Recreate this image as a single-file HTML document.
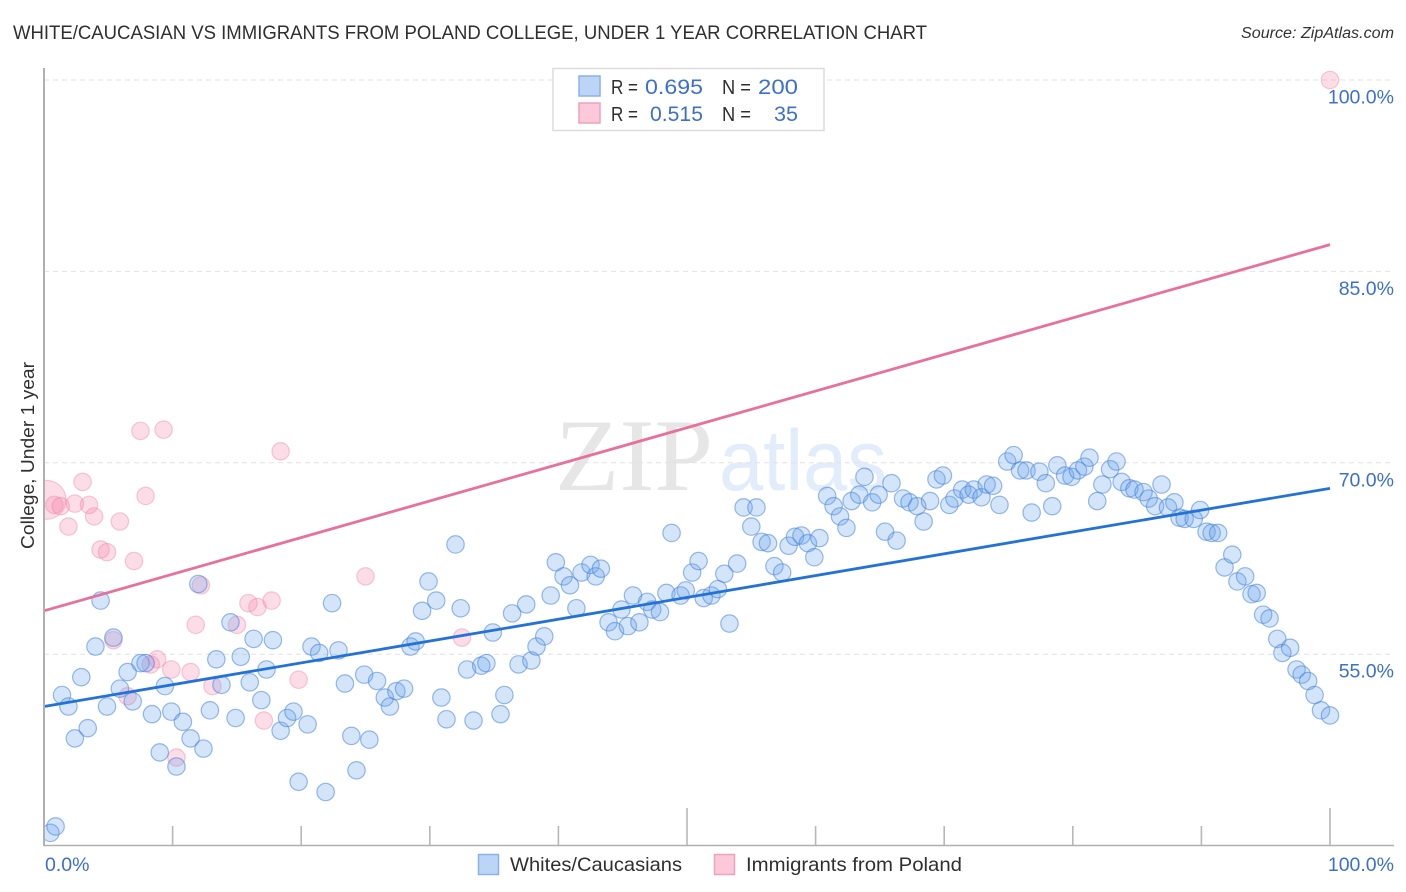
<!DOCTYPE html>
<html lang="en">
<head>
<meta charset="utf-8">
<title>White/Caucasian vs Immigrants from Poland College, Under 1 Year Correlation Chart</title>
<style>
html,body{margin:0;padding:0;background:#fff;width:1406px;height:892px;overflow:hidden}
svg{display:block;font-family:"Liberation Sans",sans-serif}
</style>
</head>
<body>
<svg id="chart" xmlns="http://www.w3.org/2000/svg" width="1406" height="892" viewBox="0 0 1406 892">
  <defs>
    <clipPath id="plot-clip"><rect x="44" y="0" width="1362" height="845"/></clipPath>
  </defs>
  <rect x="0" y="0" width="1406" height="892" fill="#fff"/>
  <text x="13" y="39" font-size="19.5" fill="#2f2f2f" textLength="914" lengthAdjust="spacingAndGlyphs">WHITE/CAUCASIAN VS IMMIGRANTS FROM POLAND COLLEGE, UNDER 1 YEAR CORRELATION CHART</text>
  <text x="1241" y="38" font-size="15.5" font-style="italic" fill="#333" textLength="153" lengthAdjust="spacingAndGlyphs">Source: ZipAtlas.com</text>
  <g>
    <text x="555" y="490" font-family="'Liberation Serif',serif" font-size="103" fill="#e6e6e6" textLength="158" lengthAdjust="spacingAndGlyphs">ZIP</text>
    <text x="719" y="490" font-size="86" fill="#e2ecfa" textLength="168" lengthAdjust="spacingAndGlyphs">atlas</text>
  </g>
  <g id="grid"></g>
  <g id="pink-points" clip-path="url(#plot-clip)"></g>
  <g id="blue-points" clip-path="url(#plot-clip)"></g>
  <g id="lines"></g>
  <g id="axes"></g>
  <text transform="translate(34,549) rotate(-90)" font-size="18.5" fill="#2f2f2f" textLength="187" lengthAdjust="spacingAndGlyphs">College, Under 1 year</text>

  <g>
    <rect x="553" y="68.500" width="271" height="62" fill="#fff" stroke="#dcdcdc" stroke-width="1.500"/>
    <rect x="579" y="76" width="21" height="20" fill="#bcd5f7" stroke="#8ab2e8" stroke-width="1.500"/>
    <rect x="579" y="103" width="21" height="20" fill="#fcc8da" stroke="#f0a0bc" stroke-width="1.500"/>
    <text x="611" y="94" font-size="20.500" fill="#2f2f2f" textLength="27" lengthAdjust="spacingAndGlyphs">R =</text>
    <text x="645" y="94" font-size="21.500" fill="#3b6fd0" textLength="58" lengthAdjust="spacingAndGlyphs">0.695</text>
    <text x="722" y="94" font-size="20.500" fill="#2f2f2f" textLength="29" lengthAdjust="spacingAndGlyphs">N =</text>
    <text x="758" y="94" font-size="21.500" fill="#3b6fd0" textLength="40" lengthAdjust="spacingAndGlyphs">200</text>
    <text x="611" y="121" font-size="20.500" fill="#2f2f2f" textLength="27" lengthAdjust="spacingAndGlyphs">R =</text>
    <text x="650" y="121" font-size="21.500" fill="#3b6fd0" textLength="53" lengthAdjust="spacingAndGlyphs">0.515</text>
    <text x="722" y="121" font-size="20.500" fill="#2f2f2f" textLength="29" lengthAdjust="spacingAndGlyphs">N =</text>
    <text x="774" y="121" font-size="21.500" fill="#3b6fd0" textLength="24" lengthAdjust="spacingAndGlyphs">35</text>
  </g>

  <g>
    <rect x="478.500" y="854.500" width="20" height="20" fill="#bcd5f7" stroke="#8ab2e8" stroke-width="1.500"/>
    <text x="510" y="871" font-size="19.500" fill="#2f2f2f" textLength="172" lengthAdjust="spacingAndGlyphs">Whites/Caucasians</text>
    <rect x="714.500" y="854.500" width="20" height="20" fill="#fcc8da" stroke="#f0a0bc" stroke-width="1.500"/>
    <text x="746" y="871" font-size="19.500" fill="#2f2f2f" textLength="216" lengthAdjust="spacingAndGlyphs">Immigrants from Poland</text>
  </g>
</svg>
<script>
// Data (percent values)
const yTickValues = [100, 85, 70, 55];
const yTickLabels = ["100.0%", "85.0%", "70.0%", "55.0%"];
const xTickValues = [0, 10, 20, 30, 40, 50, 60, 70, 80, 90, 100];
const xMajorTicks = [50, 100];
const xEndValues = [0, 100];
const xEndLabels = ["0.0%", "100.0%"];

const blueX = [0.5,0.9,1.4,1.9,2.4,2.9,3.4,4.0,4.4,4.9,5.4,5.9,6.5,6.9,7.5,7.9,8.4,9.0,9.4,9.9,
10.3,10.8,11.4,12.0,12.4,12.9,13.4,13.8,14.5,14.9,15.3,16.0,16.3,16.9,17.3,17.8,18.4,18.9,19.4,19.8,
20.5,20.8,21.4,21.9,22.4,22.9,23.4,23.9,24.3,24.9,25.3,25.9,26.5,26.9,27.4,28.0,28.5,28.9,29.4,29.9,
30.5,30.9,31.3,32.0,32.4,32.9,33.4,34.0,34.4,34.9,35.5,35.8,36.4,36.9,37.5,37.9,38.3,38.9,39.4,39.8,
40.4,40.9,41.4,41.8,42.5,42.9,43.3,43.9,44.4,44.9,45.4,45.8,46.3,46.9,47.3,47.9,48.4,48.8,49.5,49.9,
50.4,50.9,51.3,51.9,52.4,52.9,53.3,53.9,54.4,55.0,55.4,55.8,56.3,56.8,57.4,57.9,58.4,58.9,59.4,59.9,
60.3,60.9,61.4,61.9,62.4,62.8,63.4,63.8,64.4,64.9,65.4,65.9,66.3,66.8,67.3,67.9,68.4,68.9,69.4,69.9,
70.4,70.8,71.4,71.9,72.3,72.9,73.3,73.8,74.3,74.9,75.4,75.9,76.4,76.8,77.4,77.9,78.4,78.8,79.4,79.9,
80.4,80.9,81.3,81.9,82.3,82.9,83.4,83.8,84.4,84.8,85.5,85.9,86.4,86.9,87.4,87.9,88.3,88.7,89.4,89.9,
90.4,90.8,91.3,91.8,92.4,92.8,93.4,93.9,94.3,94.8,95.3,95.9,96.3,96.9,97.4,97.8,98.3,98.8,99.3,100];
const blueY = [41.0,41.5,51.8,50.9,48.4,53.2,49.2,55.6,59.2,50.9,56.3,52.3,53.6,51.3,54.3,54.3,50.3,47.3,52.5,50.5,
46.2,49.7,48.4,60.5,47.6,50.6,54.6,52.6,57.5,50.0,54.8,52.8,56.2,51.4,53.8,56.1,49.0,50.0,50.5,45.0,
49.5,55.6,55.1,44.2,59.0,55.3,52.7,48.6,45.9,53.4,48.3,52.9,51.6,50.9,52.1,52.3,55.6,56.0,58.4,60.7,
59.2,51.6,49.9,63.6,58.6,53.8,49.8,54.1,54.3,56.7,50.3,51.8,58.2,54.2,58.9,54.5,55.6,56.4,59.6,62.2,
61.1,60.4,58.6,61.4,62.0,61.1,61.7,57.5,56.8,58.5,57.2,59.6,57.5,59.1,58.5,58.3,59.8,64.5,59.6,60.0,
61.4,62.3,59.4,59.6,60.1,61.3,57.4,62.1,66.5,65.0,66.5,63.8,63.7,61.9,61.4,63.5,64.2,64.3,63.7,62.6,
64.1,67.4,66.6,65.8,64.9,67.0,67.5,68.9,66.9,67.5,64.6,68.4,63.9,67.2,66.9,66.6,65.4,67.0,68.7,69.0,
66.7,67.2,67.9,67.5,67.9,67.3,68.3,68.2,66.7,70.1,70.6,69.4,69.4,66.1,69.3,68.4,66.6,69.8,69.0,68.9,
69.4,69.7,70.4,67.0,68.3,69.5,70.1,68.5,68.0,67.9,67.7,67.2,66.6,68.3,66.5,66.9,65.7,65.6,65.6,66.3,
64.6,64.5,64.5,61.8,62.8,60.7,61.1,59.7,59.8,58.1,57.8,56.2,55.1,55.5,53.8,53.4,52.9,51.8,50.6,50.2];

const pinkX = [0.2,0.8,1.3,2.4,3.5,3.0,3.9,1.9,5.9,7.9,7.5,9.3,18.4,4.4,4.9,7.0,12.2,25.0,15.9,16.6,
17.7,11.8,15.0,5.4,32.5,8.8,8.3,9.9,11.4,13.1,6.5,19.8,17.1,10.3,100];
const pinkY = [67.1,66.7,66.6,66.8,66.7,68.5,65.8,65.0,65.4,67.4,72.5,72.6,70.9,63.2,63.0,62.3,60.4,61.1,59.0,58.7,
59.2,57.3,57.3,56.1,56.3,54.6,54.2,53.8,53.6,52.5,51.7,53.0,49.8,46.9,100];
const pinkWeights = [5,1,1,1,1,1,1,1,1,1,1,1,1,1,1,1,1,1,1,1,1,1,1,1,1,1,1,1,1,1,1,1,1,1,1];

const trendX = [0, 100];
const blueTrendY = [50.9, 68.0];
const pinkTrendY = [58.4, 87.1];

// Axis functions
const SVG_NS = "http://www.w3.org/2000/svg";
const xScale = v => 44 + v * 12.86;
const yScale = v => 80 + (100 - v) * 12.76;
const BASE_R = 8.7;
function make(tag, attrs, parent) {
  const el = document.createElementNS(SVG_NS, tag);
  for (const k in attrs) el.setAttribute(k, attrs[k]);
  parent.appendChild(el);
  return el;
}

// Gridlines
const gridG = document.getElementById("grid");
yTickValues.forEach(function (v) {
  const el = make("line", {x1: 44, x2: 1394, y1: yScale(v), y2: yScale(v), stroke: "#e2e2e2", "stroke-width": 1, "stroke-dasharray": "5 4"}, gridG);
  
  
});

// Points
const pinkG = document.getElementById("pink-points");
pinkX.forEach(function (v, i) {
  const el = make("circle", {cx: xScale(v), cy: yScale(pinkY[i]), r: BASE_R * Math.sqrt(pinkWeights[i]), fill: "rgba(245,140,175,0.3)", stroke: "rgba(238,130,168,0.42)", "stroke-width": 1.2}, pinkG);
  
  
});
const blueG = document.getElementById("blue-points");
blueX.forEach(function (v, i) {
  const el = make("circle", {cx: xScale(v), cy: yScale(blueY[i]), r: BASE_R, fill: "rgba(105,160,235,0.28)", stroke: "rgba(60,125,220,0.52)", "stroke-width": 1.2}, blueG);
  
  
});

// Trend lines
const lineG = document.getElementById("lines");
const pinkLine = make("line", {x1: xScale(trendX[0]), x2: xScale(trendX[1]), y1: yScale(pinkTrendY[0]), y2: yScale(pinkTrendY[1]), stroke: "#e8709c", "stroke-width": 2.8}, lineG);


const blueLine = make("line", {x1: xScale(trendX[0]), x2: xScale(trendX[1]), y1: yScale(blueTrendY[0]), y2: yScale(blueTrendY[1]), stroke: "#2272d8", "stroke-width": 2.8}, lineG);



// Axes
const axisG = document.getElementById("axes");
const yAxisLine = make("line", {x1: 44, x2: 44, y1: 68, y2: 846, stroke: "#b0b0b0", "stroke-width": 2}, axisG);


const xAxisLine = make("line", {x1: 44, x2: 1394, y1: 845.5, y2: 845.5, stroke: "#b0b0b0", "stroke-width": 1.6}, axisG);


xTickValues.forEach(function (v) {
  if (v === 0) return;
  const top = xMajorTicks.indexOf(v) >= 0 ? 808 : 826;
  const el = make("line", {x1: xScale(v), x2: xScale(v), y1: top, y2: 845, stroke: "#b8b8b8", "stroke-width": 1.6}, axisG);
  
  
});
yTickValues.forEach(function (v, i) {
  const el = make("text", {x: 1394, y: yScale(v) + 23.5, "text-anchor": "end", "font-size": 19.5, fill: "#3b6fd0"}, axisG);
  el.textContent = yTickLabels[i];
  
  
});
xEndValues.forEach(function (v, i) {
  const el = make("text", {x: i === 0 ? 45 : 1394, y: 871, "text-anchor": i === 0 ? "start" : "end", "font-size": 19.5, fill: "#3b6fd0"}, axisG);
  el.textContent = xEndLabels[i];
  
  
});
</script>
</body>
</html>
